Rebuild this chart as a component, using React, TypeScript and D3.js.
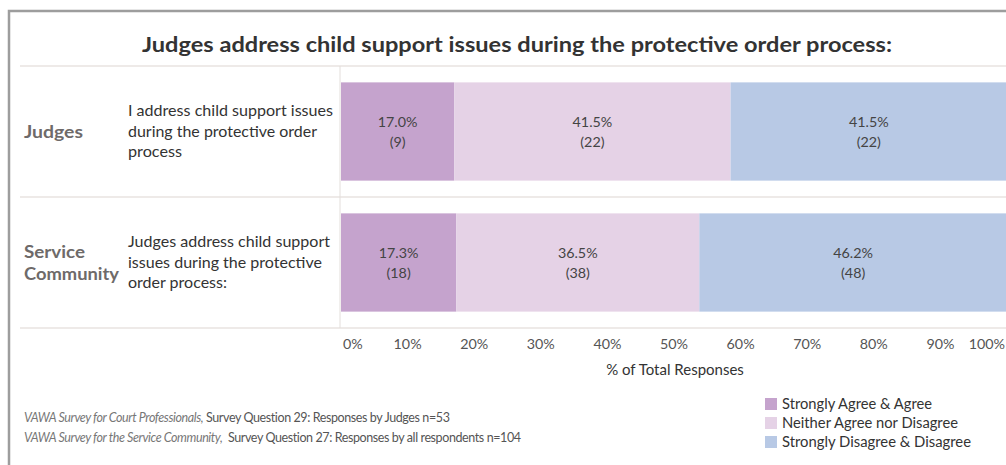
import React from "react";
import * as d3 from "d3";

const title = "Judges address child support issues during the protective order process:";
const groups = ["Judges", "Service Community"];
const groupLabelLines = [["Judges"], ["Service", "Community"]];
const questionLines = [
  ["I address child support issues", "during the protective order", "process"],
  ["Judges address child support", "issues during the protective", "order process:"],
];
const categories = ["Strongly Agree & Agree", "Neither Agree nor Disagree", "Strongly Disagree & Disagree"];
const judgesPct = [17.0, 41.5, 41.5];
const judgesCount = [9, 22, 22];
const servicePct = [17.3, 36.5, 46.2];
const serviceCount = [18, 38, 48];
const tickValues = [0, 10, 20, 30, 40, 50, 60, 70, 80, 90, 100];
const axisTitle = "% of Total Responses";
const footnotes = [
  { italic: "VAWA Survey for Court Professionals,", normal: " Survey Question 29: Responses by Judges n=53" },
  { italic: "VAWA Survey for the Service Community,", normal: "  Survey Question 27: Responses by all respondents n=104" },
];
const colors = ["#c5a3cd", "#e5d2e6", "#b8c9e5"];

// measured text widths (layout only)
const questionWidths = [[205, 189, 54], [202, 194, 99]];
const groupLabelWidths = [[59], [61, 95]];
const legendW = [150, 176, 189];

const FONT = "Lato, 'Open Sans', sans-serif";

export default function App() {
  const W = 1006, H = 465;
  const x = d3.scaleLinear().domain([0, 100]).range([341, 1007]);
  const yRow = d3.scaleBand<string>().domain(groups).range([66, 328]).paddingInner(0).paddingOuter(0);
  const yBar = d3.scaleBand<string>().domain(groups).range([66, 328]).paddingInner(0.25).paddingOuter(0.125);
  const color = d3.scaleOrdinal<string, string>().domain(categories).range(colors);

  const pcts = [judgesPct, servicePct];
  const counts = [judgesCount, serviceCount];
  const rows = groups.map((g, i) => {
    const cum = d3.cumsum(pcts[i]);
    return categories.map((c, j) => ({
      group: g,
      cat: c,
      x0: cum[j] - pcts[i][j],
      x1: cum[j],
      pct: pcts[i][j],
      n: counts[i][j],
    }));
  });

  const tickLabelX = (t: number) => {
    if (t === 0) return { x: x(0) + 2, anchor: "start" };
    if (t === 100) return { x: W - 1, anchor: "end" };
    return { x: x(t), anchor: "middle" };
  };

  return (
    <svg width={W} height={H} style={{ position: "absolute", left: 0, top: 0, background: "#fff" }} fontFamily={FONT}>
      <rect x={0} y={0} width={W} height={H} fill="#fff" />
      {/* frame */}
      <rect x={9} y={11} width={1200} height={600} fill="none" stroke="#9d9d9d" strokeWidth={2.5} />
      {/* title */}
      <text x={517} y={52} textAnchor="middle" fontSize={20} fontWeight={700} fill="#333" textLength={750} lengthAdjust="spacingAndGlyphs">
        {title}
      </text>
      {/* separator lines */}
      {[66, ...groups.map((g) => (yRow(g) as number) + yRow.bandwidth())].map((yy, i) => (
        <line key={i} x1={20} x2={W} y1={yy} y2={yy} stroke="#ddd6d2" strokeWidth={1.2} />
      ))}
      <line x1={340} x2={340} y1={66} y2={328} stroke="#e3dedb" strokeWidth={1} />
      {/* rows */}
      {groups.map((g, i) => {
        const cy = (yRow(g) as number) + yRow.bandwidth() / 2;
        const gl = groupLabelLines[i];
        const ql = questionLines[i];
        return (
          <g key={g}>
            {gl.map((l, k) => (
              <text
                key={k}
                x={24}
                y={cy + (k - (gl.length - 1) / 2) * 22 + 6}
                fontSize={16.5}
                fontWeight={700}
                fill="#6e6a69"
                textLength={groupLabelWidths[i][k]}
                lengthAdjust="spacingAndGlyphs"
              >
                {l}
              </text>
            ))}
            {ql.map((l, k) => (
              <text
                key={k}
                x={128}
                y={cy + (k - 1) * 20.5 + 5}
                fontSize={15}
                fill="#333"
                textLength={questionWidths[i][k]}
                lengthAdjust="spacingAndGlyphs"
              >
                {l}
              </text>
            ))}
            {rows[i].map((d) => (
              <g key={d.cat}>
                <rect
                  x={x(d.x0)}
                  y={yBar(g) as number}
                  width={x(d.x1) - x(d.x0)}
                  height={yBar.bandwidth()}
                  fill={color(d.cat)}
                />
                <text x={(x(d.x0) + x(d.x1)) / 2} y={cy - 10 + 5} textAnchor="middle" fontSize={14.3} fill="#444">
                  {d.pct.toFixed(1) + "%"}
                </text>
                <text x={(x(d.x0) + x(d.x1)) / 2} y={cy + 10 + 5} textAnchor="middle" fontSize={14.3} fill="#444">
                  {"(" + d.n + ")"}
                </text>
              </g>
            ))}
          </g>
        );
      })}
      {/* axis */}
      {tickValues.map((t) => {
        const p = tickLabelX(t);
        return (
          <text key={t} x={p.x} y={349} textAnchor={p.anchor as any} fontSize={14.3} fill="#555">
            {t + "%"}
          </text>
        );
      })}
      <text x={675} y={375} textAnchor="middle" fontSize={15} fill="#333">
        {axisTitle}
      </text>
      {/* footnotes */}
      {footnotes.map((f, i) => (
        <text
          key={i}
          x={24}
          y={422 + i * 20}
          fontSize={12.5}
          letterSpacing={-0.4}
          fill="#555"
          style={{ whiteSpace: "pre" }}
        >
          <tspan fontStyle="italic" fill="#777">{f.italic}</tspan>
          <tspan>{f.normal}</tspan>
        </text>
      ))}
      {/* legend */}
      {categories.map((c, i) => (
        <g key={c}>
          <rect x={765} y={398 + i * 19} width={12} height={12} fill={color(c)} />
          <text x={782} y={409 + i * 19} fontSize={14.5} fill="#333" textLength={legendW[i]} lengthAdjust="spacingAndGlyphs">
            {c}
          </text>
        </g>
      ))}
    </svg>
  );
}
